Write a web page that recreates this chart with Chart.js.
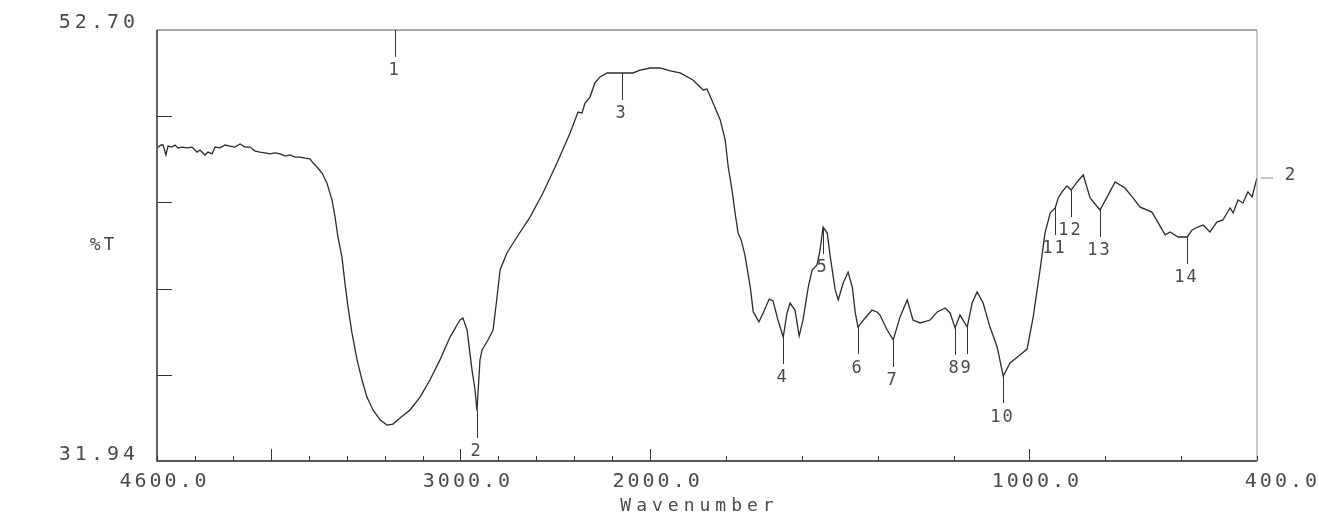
<!DOCTYPE html>
<html>
<head>
<meta charset="utf-8">
<script src="https://cdn.jsdelivr.net/npm/chart.js@4.4.1/dist/chart.umd.min.js"></script>
<style>
  html, body { margin: 0; padding: 0; background: #fff; }
  #wrap { width: 1319px; height: 520px; }
</style>
</head>
<body>
<div id="wrap"><canvas id="irChart" width="1319" height="520"></canvas></div>
<script>
// spectrum: wavenumber (cm-1) and %T
const wavenumber = [
  4595, 4579, 4568, 4553, 4542, 4521, 4505, 4489, 4468, 4442, 4415, 4389, 4373, 4347, 4331, 4310,
  4294, 4268, 4241, 4215, 4189, 4162, 4136, 4110, 4083, 4057, 4031, 4004, 3978, 3951, 3925, 3899,
  3872, 3846, 3820, 3793, 3777, 3756, 3730, 3704, 3677, 3661, 3646, 3625, 3609, 3593, 3572, 3545,
  3519, 3493, 3461, 3424, 3387, 3356, 3319, 3266, 3213, 3161, 3108, 3055, 3018, 3002, 2987, 2965,
  2939, 2923, 2913, 2897, 2886, 2855, 2828, 2807, 2791, 2755, 2702, 2633, 2565, 2491, 2422, 2380,
  2359, 2343, 2317, 2291, 2264, 2227, 2148, 2090, 2053, 2000,
  1974, 1947, 1921, 1887, 1860, 1850, 1834, 1815, 1802, 1794, 1784, 1776, 1768, 1760, 1750, 1736,
  1728, 1713, 1702, 1686, 1676, 1663, 1649, 1639, 1631, 1618, 1607, 1597, 1583, 1573, 1560, 1552,
  1544, 1533, 1525, 1512, 1504, 1491, 1478, 1467, 1459, 1452, 1433, 1415, 1402, 1394, 1375, 1359,
  1341, 1322, 1307, 1288, 1262, 1243, 1222, 1209, 1196, 1183, 1164, 1151, 1138, 1122, 1104, 1085,
  1069, 1051, 1025, 1006, 990, 972, 959, 945, 932, 924, 914, 901, 890, 874, 858, 840,
  814, 795, 774, 748, 727, 708, 677, 642, 629, 608, 584, 571, 556, 542, 524, 506,
  490, 471, 463, 450, 437, 424, 413, 400
];
const transmittance = [
  47.06, 47.16, 47.16, 46.68, 47.11, 47.06, 47.16, 47.02, 47.06, 47.02, 47.06, 46.82, 46.92, 46.68, 46.82, 46.73,
  47.06, 47.02, 47.16, 47.11, 47.06, 47.21, 47.06, 47.06, 46.87, 46.82, 46.78, 46.73, 46.78, 46.73, 46.63, 46.68,
  46.58, 46.58, 46.53, 46.49, 46.29, 46.10, 45.81, 45.33, 44.51, 43.69, 42.73, 41.77, 40.51, 39.36, 38.11, 36.81,
  35.84, 35.02, 34.40, 33.92, 33.67, 33.72, 34.01, 34.40, 35.02, 35.84, 36.81, 37.91, 38.49, 38.73, 38.83, 38.25,
  36.32, 35.36, 34.35, 36.81, 37.29, 37.77, 38.25, 39.84, 41.14, 41.96, 42.73, 43.69, 44.85, 46.29, 47.74, 48.75,
  48.70, 49.18, 49.47, 50.15, 50.44, 50.63, 50.63, 50.63, 50.77, 50.87,
  50.87, 50.73, 50.63, 50.29, 49.81, 49.86, 49.18, 48.37, 47.40, 46.10, 44.99, 43.89, 42.92, 42.59, 41.86, 40.32,
  39.12, 38.64, 39.07, 39.74, 39.65, 38.73, 37.91, 39.07, 39.55, 39.21, 37.96, 38.73, 40.32, 41.14, 41.38, 42.10,
  43.21, 42.92, 41.77, 40.18, 39.70, 40.51, 41.04, 40.32, 39.07, 38.39, 38.83, 39.21, 39.12, 38.97, 38.25, 37.77,
  38.88, 39.70, 38.73, 38.59, 38.73, 39.12, 39.31, 39.07, 38.35, 38.97, 38.39, 39.55, 40.08, 39.55, 38.39, 37.43,
  36.03, 36.66, 37.05, 37.33, 38.88, 41.14, 42.92, 43.89, 44.13, 44.61, 44.90, 45.19, 44.99, 45.38, 45.72, 44.61,
  44.03, 44.66, 45.38, 45.09, 44.61, 44.17, 43.93, 42.83, 42.97, 42.73, 42.73, 43.07, 43.21, 43.31, 42.97, 43.45,
  43.55, 44.13, 43.89, 44.51, 44.37, 44.90, 44.66, 45.57
];

// numbered peak marks
const peakLabel = ["1", "2", "3", "4", "5", "6", "7", "8", "9", "10", "11", "12", "13", "14"];
const peakWavenumber = [3345, 2913, 2148, 1649, 1544, 1452, 1359, 1196, 1164, 1069, 932, 890, 814, 584];
const peakTransmittance = [52.70, 34.35, 50.63, 37.91, 43.21, 38.39, 37.77, 38.35, 38.39, 36.03, 44.13, 44.99, 44.03, 42.73];

// axes
const yMin = 31.94;
const yMax = 52.70;
const yTickCount = 5;
const xMinorTicks = [4600, 4400, 4200, 4000, 3800, 3600, 3400, 3200, 3000, 2800, 2600, 2400, 2200, 2000,
  1800, 1600, 1400, 1200, 1000, 800, 600, 400];
const xMajorTicks = [4000, 3000, 2000, 1000];
const xTickLabelValues = [4600, 3000, 2000, 1000, 400];
const xTickLabels = ["4600.0", "3000.0", "2000.0", "1000.0", "400.0"];
const xTitle = "Wavenumber";
const yTitle = "%T";
const endLabel = "2";

// the plotter halves the scale above 2000 cm-1
function toAxis(w) {
  return w >= 2000 ? (4600 - w) / 2 : 1300 + (2000 - w);
}

const points = wavenumber.map((w, i) => ({ x: toAxis(w), y: transmittance[i] }));

const inkFont = '"DejaVu Sans Mono", "Liberation Mono", monospace';

function putText(ctx, text, x, y, size, spacing, align) {
  ctx.save();
  ctx.font = size + "px " + inkFont;
  ctx.letterSpacing = spacing + "px";
  ctx.fillStyle = "#4a4a4a";
  ctx.textBaseline = "middle";
  let w = ctx.measureText(text).width - spacing;
  let left = x;
  if (align === "center") left = x - w / 2;
  if (align === "right") left = x - w;
  ctx.textAlign = "left";
  ctx.fillText(text, left, y);
  ctx.restore();
}

const plotterFrame = {
  id: "plotterFrame",
  afterDraw(chart) {
    const ctx = chart.ctx;
    const xs = chart.scales.x;
    const ys = chart.scales.y;
    const a = chart.chartArea;

    ctx.save();
    // frame
    ctx.lineWidth = 1.4;
    ctx.strokeStyle = "#222";
    ctx.beginPath();
    ctx.moveTo(a.left, a.top);
    ctx.lineTo(a.left, a.bottom);
    ctx.lineTo(a.right, a.bottom);
    ctx.stroke();
    ctx.lineWidth = 1;
    ctx.strokeStyle = "#555";
    ctx.beginPath();
    ctx.moveTo(a.left, a.top);
    ctx.lineTo(a.right, a.top);
    ctx.stroke();
    ctx.strokeStyle = "#999";
    ctx.beginPath();
    ctx.moveTo(a.right, a.top);
    ctx.lineTo(a.right, a.bottom);
    ctx.stroke();

    // x ticks, pointing into the plot
    ctx.strokeStyle = "#333";
    ctx.lineWidth = 1;
    xMinorTicks.forEach(w => {
      const px = Math.round(xs.getPixelForValue(toAxis(w))) + 0.5;
      const len = xMajorTicks.includes(w) ? 12 : 5;
      ctx.beginPath();
      ctx.moveTo(px, a.bottom);
      ctx.lineTo(px, a.bottom - len);
      ctx.stroke();
    });

    // y ticks
    for (let k = 1; k < yTickCount; k++) {
      const v = yMax - k * (yMax - yMin) / yTickCount;
      const py = Math.round(ys.getPixelForValue(v)) + 0.5;
      ctx.beginPath();
      ctx.moveTo(a.left, py);
      ctx.lineTo(a.left + 15, py);
      ctx.stroke();
    }

    // axis labels
    putText(ctx, yMax.toFixed(2), a.left - 22, ys.getPixelForValue(yMax) - 7, 20, 4, "right");
    putText(ctx, yMin.toFixed(2), a.left - 22, ys.getPixelForValue(yMin) - 6, 20, 4, "right");
    putText(ctx, yTitle, a.left - 55, (a.top + a.bottom) / 2, 18, 3, "center");
    xTickLabelValues.forEach((w, i) => {
      const px = xs.getPixelForValue(toAxis(w));
      if (i === xTickLabelValues.length - 1) {
        putText(ctx, xTickLabels[i], chart.width - 2, a.bottom + 21, 20, 3, "right");
      } else {
        putText(ctx, xTickLabels[i], px + 6, a.bottom + 21, 20, 3, "center");
      }
    });
    putText(ctx, xTitle, (a.left + a.right) / 2 - 10, a.bottom + 45, 18, 5, "center");

    // end-of-scan mark on the right
    const endY = ys.getPixelForValue(transmittance[transmittance.length - 1]);
    ctx.strokeStyle = "#888";
    ctx.beginPath();
    ctx.moveTo(a.right + 4, endY);
    ctx.lineTo(a.right + 16, endY);
    ctx.stroke();
    putText(ctx, endLabel, a.right + 33, endY - 3, 18, 0, "center");

    // numbered peak marks
    ctx.strokeStyle = "#333";
    peakWavenumber.forEach((w, i) => {
      const px = Math.round(xs.getPixelForValue(toAxis(w))) + 0.5;
      const py = ys.getPixelForValue(peakTransmittance[i]);
      ctx.beginPath();
      ctx.moveTo(px, py);
      ctx.lineTo(px, py + 27);
      ctx.stroke();
      putText(ctx, peakLabel[i], px - 2, py + 41, 17, 2, "center");
    });
    ctx.restore();
  }
};

new Chart(document.getElementById("irChart"), {
  type: "line",
  data: {
    datasets: [{
      data: points,
      borderColor: "#2b2b2b",
      borderWidth: 1.3,
      pointRadius: 0,
      tension: 0,
      fill: false
    }]
  },
  options: {
    responsive: false,
    animation: false,
    devicePixelRatio: 1,
    layout: { padding: { left: 157, right: 62, top: 30, bottom: 59 } },
    plugins: { legend: { display: false }, tooltip: { enabled: false } },
    scales: {
      x: { type: "linear", min: 0, max: 2900, display: false },
      y: { type: "linear", min: yMin, max: yMax, display: false }
    }
  },
  plugins: [plotterFrame]
});
</script>
</body>
</html>
